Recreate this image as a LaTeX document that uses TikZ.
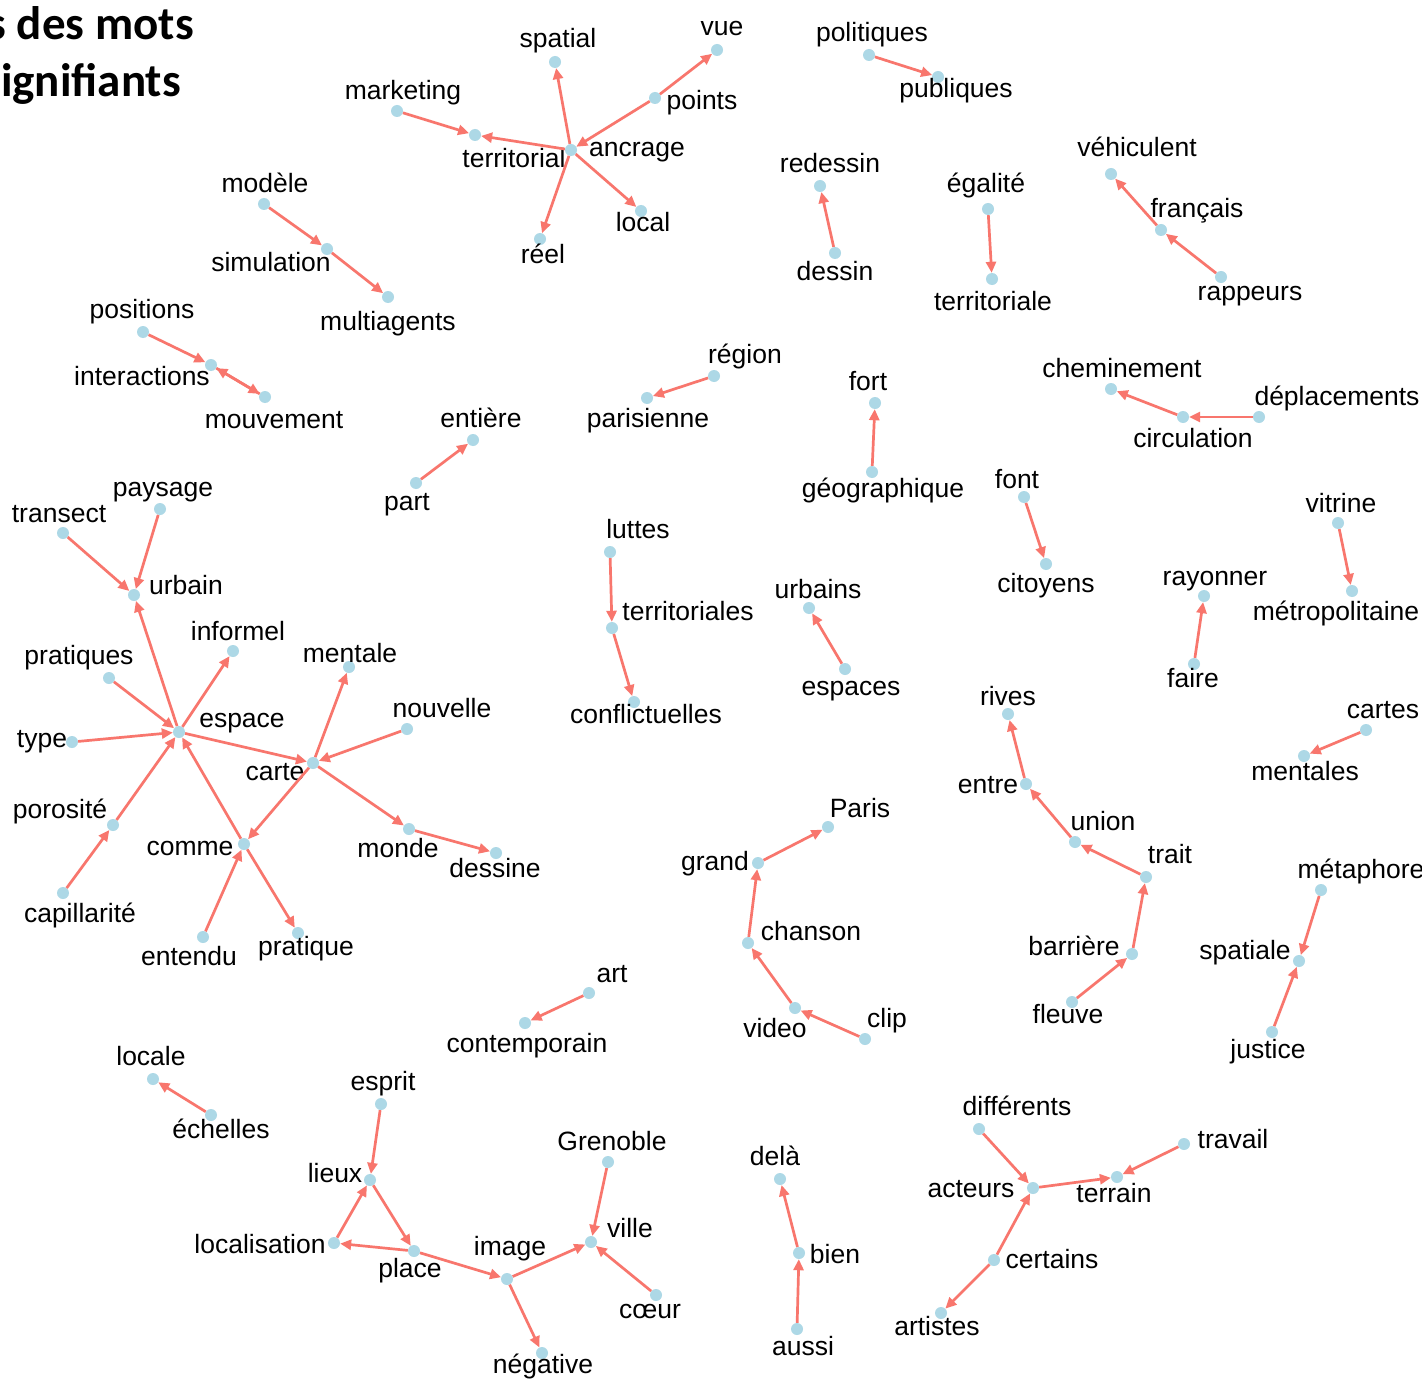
\documentclass[tikz,border=0pt]{standalone}
\usepackage{fontspec}
\setmainfont{Liberation Sans}
\newfontfamily\titlefont{Carlito}
\usetikzlibrary{arrows.meta}
\definecolor{edgec}{HTML}{F8766D}
\definecolor{dotc}{HTML}{ADD8E6}
\tikzset{
  dotn/.style={circle,fill=dotc,draw=none,minimum size=12pt,inner sep=0pt},
  lbl/.style={anchor=base,inner sep=0pt,font=\fontsize{26.5}{30}\selectfont,text=black},
  edge/.style={draw=edgec,line width=2.7pt,-{Triangle[length=11pt,width=10pt]}},
  ttl/.style={anchor=base east,inner sep=0pt,font=\titlefont\bfseries\fontsize{47}{52}\selectfont}
}
\begin{document}
\begin{tikzpicture}[x=1pt,y=-1pt]
\useasboundingbox[fill=white] (0,0) rectangle (1422,1383);
\begin{scope}
\clip (0,0) rectangle (1422,1383);
% title
\node[ttl] (t1) at (194,40) {s des mots};
\node[ttl] (t2) at (181,97) {ignifiants};
\end{scope}
% ---- nodes (dots)
\node[dotn] (marketing) at (397,111) {};
\node[dotn] (territorial) at (475,135) {};
\node[dotn] (ancrage) at (571,150) {};
\node[dotn] (spatial) at (555,62) {};
\node[dotn] (points) at (655,98) {};
\node[dotn] (vue) at (717,50) {};
\node[dotn] (local) at (641,211) {};
\node[dotn] (reel) at (540,239) {};
\node[dotn] (politiques) at (869,55) {};
\node[dotn] (publiques) at (938,77) {};
\node[dotn] (redessin) at (820,186) {};
\node[dotn] (dessin) at (835,253) {};
\node[dotn] (egalite) at (988,209) {};
\node[dotn] (territoriale) at (992,279) {};
\node[dotn] (vehiculent) at (1111,174) {};
\node[dotn] (francais) at (1161,230) {};
\node[dotn] (rappeurs) at (1221,277) {};
\node[dotn] (cheminement) at (1111,389) {};
\node[dotn] (circulation) at (1183,417) {};
\node[dotn] (deplacements) at (1259,417) {};
\node[dotn] (modele) at (264,204) {};
\node[dotn] (simulation) at (327,249) {};
\node[dotn] (multiagents) at (388,297) {};
\node[dotn] (positions) at (143,332) {};
\node[dotn] (interactions) at (211,365) {};
\node[dotn] (mouvement) at (265,397) {};
\node[dotn] (region) at (714,376) {};
\node[dotn] (parisienne) at (647,398) {};
\node[dotn] (fort) at (875,403) {};
\node[dotn] (geographique) at (872,472) {};
\node[dotn] (entiere) at (473,440) {};
\node[dotn] (part) at (416,483) {};
\node[dotn] (transect) at (63,533) {};
\node[dotn] (paysage) at (160,509) {};
\node[dotn] (urbain) at (134,595) {};
\node[dotn] (informel) at (233,651) {};
\node[dotn] (pratiques) at (109,678) {};
\node[dotn] (espace) at (179,732) {};
\node[dotn] (type) at (72,742) {};
\node[dotn] (mentale) at (349,667) {};
\node[dotn] (nouvelle) at (407,729) {};
\node[dotn] (carte) at (313,763) {};
\node[dotn] (porosite) at (113,825) {};
\node[dotn] (comme) at (244,844) {};
\node[dotn] (monde) at (409,829) {};
\node[dotn] (dessine) at (496,853) {};
\node[dotn] (capillarite) at (63,893) {};
\node[dotn] (entendu) at (203,937) {};
\node[dotn] (pratique) at (298,933) {};
\node[dotn] (luttes) at (610,552) {};
\node[dotn] (territoriales) at (612,628) {};
\node[dotn] (conflictuelles) at (634,702) {};
\node[dotn] (urbains) at (809,608) {};
\node[dotn] (espaces) at (845,669) {};
\node[dotn] (paris) at (828,827) {};
\node[dotn] (grand) at (758,863) {};
\node[dotn] (chanson) at (748,943) {};
\node[dotn] (video) at (795,1008) {};
\node[dotn] (clip) at (865,1039) {};
\node[dotn] (font) at (1024,497) {};
\node[dotn] (citoyens) at (1046,564) {};
\node[dotn] (rayonner) at (1204,596) {};
\node[dotn] (faire) at (1194,664) {};
\node[dotn] (vitrine) at (1338,523) {};
\node[dotn] (metropolitaine) at (1352,591) {};
\node[dotn] (cartes) at (1366,730) {};
\node[dotn] (mentales) at (1304,756) {};
\node[dotn] (rives) at (1008,714) {};
\node[dotn] (entre) at (1026,784) {};
\node[dotn] (union) at (1075,842) {};
\node[dotn] (trait) at (1146,877) {};
\node[dotn] (barriere) at (1132,954) {};
\node[dotn] (fleuve) at (1072,1002) {};
\node[dotn] (metaphore) at (1321,890) {};
\node[dotn] (spatiale) at (1299,961) {};
\node[dotn] (justice) at (1272,1032) {};
\node[dotn] (art) at (589,993) {};
\node[dotn] (contemporain) at (525,1023) {};
\node[dotn] (locale) at (153,1079) {};
\node[dotn] (echelles) at (211,1115) {};
\node[dotn] (esprit) at (381,1104) {};
\node[dotn] (lieux) at (370,1180) {};
\node[dotn] (localisation) at (334,1243) {};
\node[dotn] (place) at (414,1251) {};
\node[dotn] (image) at (507,1279) {};
\node[dotn] (ville) at (591,1242) {};
\node[dotn] (grenoble) at (608,1162) {};
\node[dotn] (coeur) at (656,1295) {};
\node[dotn] (negative) at (542,1353) {};
\node[dotn] (dela) at (780,1179) {};
\node[dotn] (bien) at (799,1253) {};
\node[dotn] (aussi) at (797,1329) {};
\node[dotn] (differents) at (979,1129) {};
\node[dotn] (acteurs) at (1033,1188) {};
\node[dotn] (terrain) at (1117,1177) {};
\node[dotn] (travail) at (1184,1144) {};
\node[dotn] (certains) at (994,1260) {};
\node[dotn] (artistes) at (941,1313) {};
% ---- labels
\node[lbl] (Lmarketing) at (403,100) {marketing};
\node[lbl] (Lterritorial) at (514,168) {territorial};
\node[lbl] (Lancrage) at (637,157) {ancrage};
\node[lbl] (Lspatial) at (558,48) {spatial};
\node[lbl] (Lpoints) at (702,110) {points};
\node[lbl] (Lvue) at (722,36) {vue};
\node[lbl] (Llocal) at (643,232) {local};
\node[lbl] (Lreel) at (543,263) {réel};
\node[lbl] (Lpolitiques) at (872,42) {politiques};
\node[lbl] (Lpubliques) at (956,98) {publiques};
\node[lbl] (Lredessin) at (830,173) {redessin};
\node[lbl] (Ldessin) at (835,280) {dessin};
\node[lbl] (Legalite) at (986,193) {égalité};
\node[lbl] (Lterritoriale) at (993,310) {territoriale};
\node[lbl] (Lvehiculent) at (1137,157) {véhiculent};
\node[lbl] (Lfrancais) at (1197,218) {français};
\node[lbl] (Lrappeurs) at (1250,300) {rappeurs};
\node[lbl] (Lcheminement) at (1122,377) {cheminement};
\node[lbl] (Lcirculation) at (1193,447) {circulation};
\node[lbl] (Ldeplacements) at (1337,405) {déplacements};
\node[lbl] (Lmodele) at (265,193) {modèle};
\node[lbl] (Lsimulation) at (271,272) {simulation};
\node[lbl] (Lmultiagents) at (388,330) {multiagents};
\node[lbl] (Lpositions) at (142,318) {positions};
\node[lbl] (Linteractions) at (142,385) {interactions};
\node[lbl] (Lmouvement) at (274,428) {mouvement};
\node[lbl] (Lregion) at (745,363) {région};
\node[lbl] (Lparisienne) at (648,427) {parisienne};
\node[lbl] (Lfort) at (868,390) {fort};
\node[lbl] (Lgeographique) at (883,497) {géographique};
\node[lbl] (Lentiere) at (481,427) {entière};
\node[lbl] (Lpart) at (407,510) {part};
\node[lbl] (Ltransect) at (59,522) {transect};
\node[lbl] (Lpaysage) at (163,496) {paysage};
\node[lbl] (Lurbain) at (186,594) {urbain};
\node[lbl] (Linformel) at (238,640) {informel};
\node[lbl] (Lpratiques) at (79,664) {pratiques};
\node[lbl] (Lespace) at (242,727) {espace};
\node[lbl] (Ltype) at (42,747) {type};
\node[lbl] (Lmentale) at (350,662) {mentale};
\node[lbl] (Lnouvelle) at (442,717) {nouvelle};
\node[lbl] (Lcarte) at (275,780) {carte};
\node[lbl] (Lporosite) at (60,818) {porosité};
\node[lbl] (Lcomme) at (190,855) {comme};
\node[lbl] (Lmonde) at (398,857) {monde};
\node[lbl] (Ldessine) at (495,877) {dessine};
\node[lbl] (Lcapillarite) at (80,922) {capillarité};
\node[lbl] (Lentendu) at (189,965) {entendu};
\node[lbl] (Lpratique) at (306,955) {pratique};
\node[lbl] (Lluttes) at (638,538) {luttes};
\node[lbl] (Lterritoriales) at (688,620) {territoriales};
\node[lbl] (Lconflictuelles) at (646,723) {conflictuelles};
\node[lbl] (Lurbains) at (818,598) {urbains};
\node[lbl] (Lespaces) at (851,695) {espaces};
\node[lbl] (Lparis) at (860,817) {Paris};
\node[lbl] (Lgrand) at (715,870) {grand};
\node[lbl] (Lchanson) at (811,940) {chanson};
\node[lbl] (Lvideo) at (775,1037) {video};
\node[lbl] (Lclip) at (887,1027) {clip};
\node[lbl] (Lfont) at (1017,488) {font};
\node[lbl] (Lcitoyens) at (1046,592) {citoyens};
\node[lbl] (Lrayonner) at (1215,585) {rayonner};
\node[lbl] (Lfaire) at (1193,687) {faire};
\node[lbl] (Lvitrine) at (1341,512) {vitrine};
\node[lbl] (Lmetropolitaine) at (1336,620) {métropolitaine};
\node[lbl] (Lcartes) at (1383,718) {cartes};
\node[lbl] (Lmentales) at (1305,780) {mentales};
\node[lbl] (Lrives) at (1008,705) {rives};
\node[lbl] (Lentre) at (988,793) {entre};
\node[lbl] (Lunion) at (1103,830) {union};
\node[lbl] (Ltrait) at (1170,863) {trait};
\node[lbl] (Lbarriere) at (1074,955) {barrière};
\node[lbl] (Lfleuve) at (1068,1023) {fleuve};
\node[lbl] (Lmetaphore) at (1361,878) {métaphore};
\node[lbl] (Lspatiale) at (1245,959) {spatiale};
\node[lbl] (Ljustice) at (1268,1058) {justice};
\node[lbl] (Lart) at (612,982) {art};
\node[lbl] (Lcontemporain) at (527,1052) {contemporain};
\node[lbl] (Llocale) at (151,1065) {locale};
\node[lbl] (Lechelles) at (221,1138) {échelles};
\node[lbl] (Lesprit) at (383,1090) {esprit};
\node[lbl] (Llieux) at (335,1182) {lieux};
\node[lbl] (Llocalisation) at (260,1253) {localisation};
\node[lbl] (Lplace) at (410,1277) {place};
\node[lbl] (Limage) at (510,1255) {image};
\node[lbl] (Lville) at (630,1237) {ville};
\node[lbl] (Lgrenoble) at (612,1150) {Grenoble};
\node[lbl] (Lcoeur) at (650,1318) {cœur};
\node[lbl] (Lnegative) at (543,1373) {négative};
\node[lbl] (Ldela) at (775,1165) {delà};
\node[lbl] (Lbien) at (835,1263) {bien};
\node[lbl] (Laussi) at (803,1355) {aussi};
\node[lbl] (Ldifferents) at (1017,1115) {différents};
\node[lbl] (Lacteurs) at (971,1197) {acteurs};
\node[lbl] (Lterrain) at (1114,1202) {terrain};
\node[lbl] (Ltravail) at (1233,1148) {travail};
\node[lbl] (Lcertains) at (1052,1268) {certains};
\node[lbl] (Lartistes) at (937,1335) {artistes};
% ---- edges
\draw[edge] (marketing) -- (territorial);
\draw[edge] (ancrage) -- (territorial);
\draw[edge] (ancrage) -- (spatial);
\draw[edge] (points) -- (ancrage);
\draw[edge] (points) -- (vue);
\draw[edge] (ancrage) -- (local);
\draw[edge] (ancrage) -- (reel);
\draw[edge] (politiques) -- (publiques);
\draw[edge] (dessin) -- (redessin);
\draw[edge] (egalite) -- (territoriale);
\draw[edge] (francais) -- (vehiculent);
\draw[edge] (rappeurs) -- (francais);
\draw[edge] (deplacements) -- (circulation);
\draw[edge] (circulation) -- (cheminement);
\draw[edge] (modele) -- (simulation);
\draw[edge] (simulation) -- (multiagents);
\draw[edge] (positions) -- (interactions);
\draw[edge] (interactions) -- (mouvement);
\draw[edge] (mouvement) -- (interactions);
\draw[edge] (region) -- (parisienne);
\draw[edge] (geographique) -- (fort);
\draw[edge] (part) -- (entiere);
\draw[edge] (transect) -- (urbain);
\draw[edge] (paysage) -- (urbain);
\draw[edge] (espace) -- (urbain);
\draw[edge] (espace) -- (informel);
\draw[edge] (pratiques) -- (espace);
\draw[edge] (type) -- (espace);
\draw[edge] (porosite) -- (espace);
\draw[edge] (comme) -- (espace);
\draw[edge] (capillarite) -- (porosite);
\draw[edge] (espace) -- (carte);
\draw[edge] (carte) -- (mentale);
\draw[edge] (nouvelle) -- (carte);
\draw[edge] (carte) -- (comme);
\draw[edge] (carte) -- (monde);
\draw[edge] (monde) -- (dessine);
\draw[edge] (entendu) -- (comme);
\draw[edge] (comme) -- (pratique);
\draw[edge] (luttes) -- (territoriales);
\draw[edge] (territoriales) -- (conflictuelles);
\draw[edge] (espaces) -- (urbains);
\draw[edge] (grand) -- (paris);
\draw[edge] (chanson) -- (grand);
\draw[edge] (video) -- (chanson);
\draw[edge] (clip) -- (video);
\draw[edge] (font) -- (citoyens);
\draw[edge] (faire) -- (rayonner);
\draw[edge] (vitrine) -- (metropolitaine);
\draw[edge] (cartes) -- (mentales);
\draw[edge] (entre) -- (rives);
\draw[edge] (union) -- (entre);
\draw[edge] (trait) -- (union);
\draw[edge] (barriere) -- (trait);
\draw[edge] (fleuve) -- (barriere);
\draw[edge] (metaphore) -- (spatiale);
\draw[edge] (justice) -- (spatiale);
\draw[edge] (art) -- (contemporain);
\draw[edge] (echelles) -- (locale);
\draw[edge] (esprit) -- (lieux);
\draw[edge] (localisation) -- (lieux);
\draw[edge] (lieux) -- (place);
\draw[edge] (place) -- (localisation);
\draw[edge] (place) -- (image);
\draw[edge] (image) -- (ville);
\draw[edge] (grenoble) -- (ville);
\draw[edge] (coeur) -- (ville);
\draw[edge] (image) -- (negative);
\draw[edge] (bien) -- (dela);
\draw[edge] (aussi) -- (bien);
\draw[edge] (differents) -- (acteurs);
\draw[edge] (acteurs) -- (terrain);
\draw[edge] (travail) -- (terrain);
\draw[edge] (certains) -- (acteurs);
\draw[edge] (certains) -- (artistes);
\end{tikzpicture}
\end{document}
